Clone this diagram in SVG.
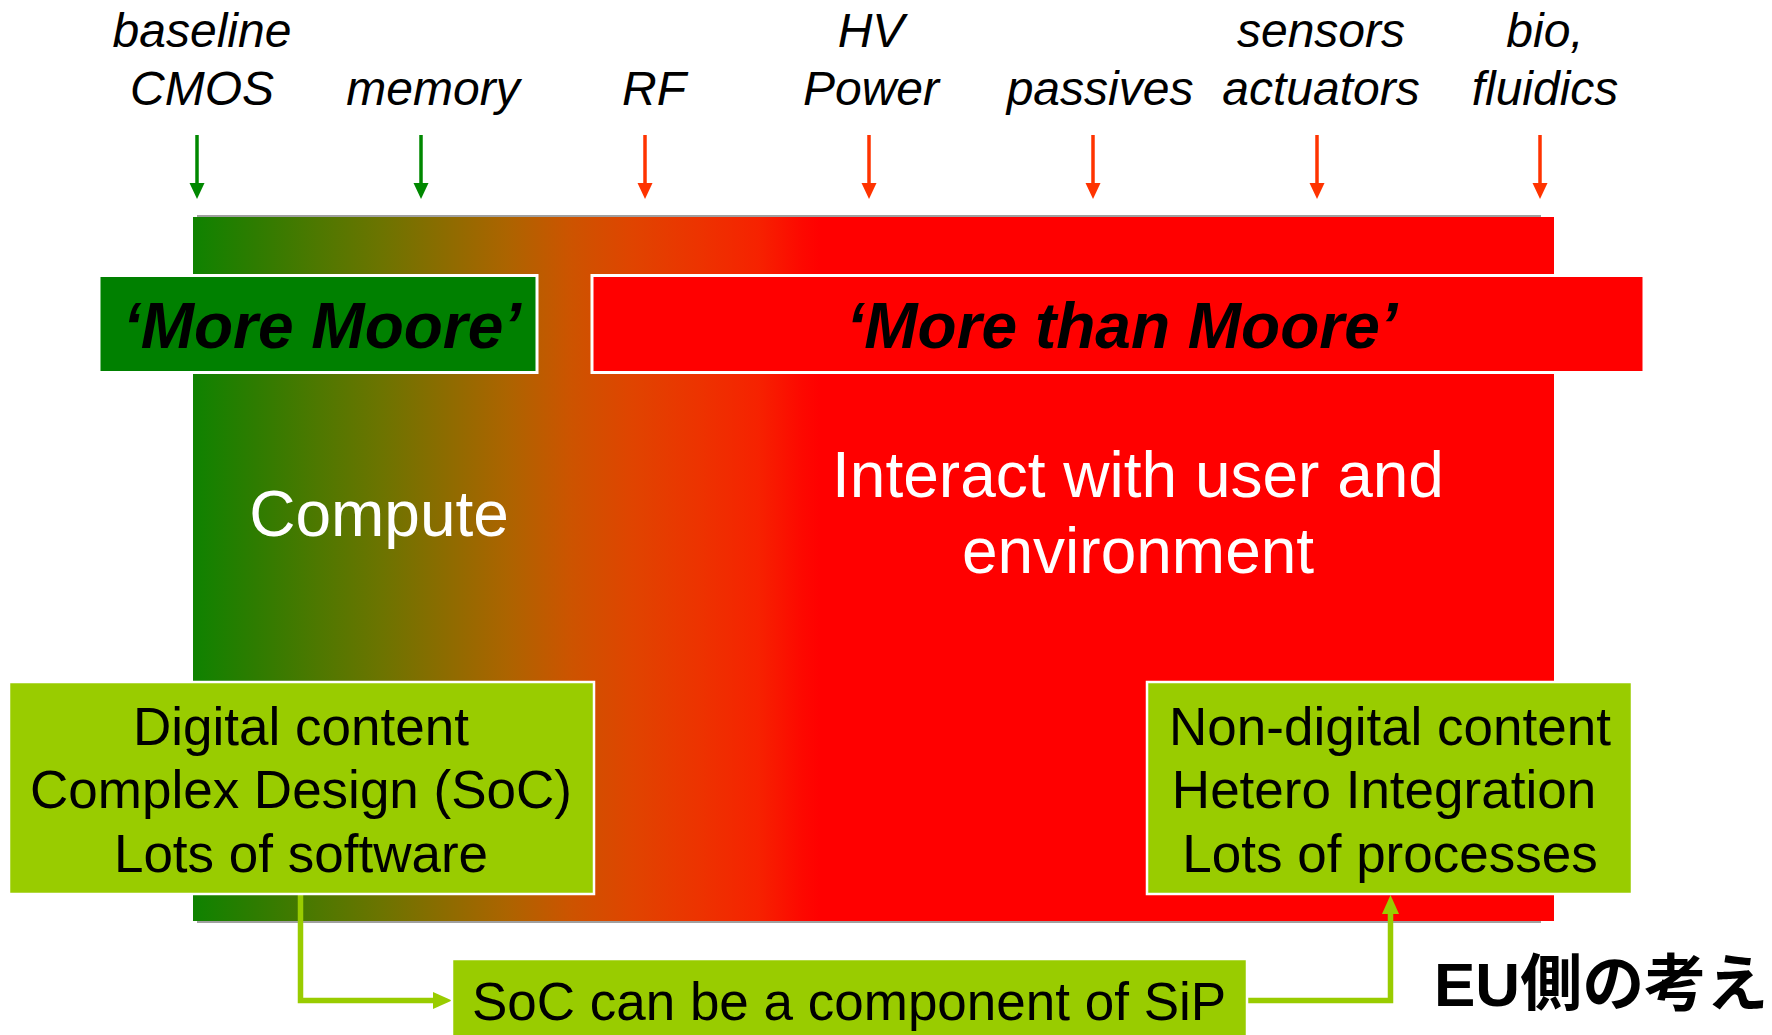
<svg xmlns="http://www.w3.org/2000/svg" width="1772" height="1035" viewBox="0 0 1772 1035">
  <defs>
    <linearGradient id="spectrum" gradientUnits="userSpaceOnUse" x1="193" y1="0" x2="821" y2="0">
      <stop offset="0" stop-color="#0f8200"/>
      <stop offset="0.1" stop-color="#2e7c00"/>
      <stop offset="0.2" stop-color="#4e7800"/>
      <stop offset="0.3" stop-color="#6c7400"/>
      <stop offset="0.4" stop-color="#8c6c00"/>
      <stop offset="0.5" stop-color="#ac6400"/>
      <stop offset="0.6" stop-color="#cc5400"/>
      <stop offset="0.7" stop-color="#e04400"/>
      <stop offset="0.8" stop-color="#ec3400"/>
      <stop offset="0.9" stop-color="#f62200"/>
      <stop offset="0.97" stop-color="#fd0800"/>
      <stop offset="1" stop-color="#ff0000"/>
    </linearGradient>
    <marker id="headGreen" markerUnits="userSpaceOnUse" markerWidth="16" markerHeight="16" refX="0" refY="8" orient="auto">
      <path d="M0,0.5 L16,8 L0,15.5 Z" fill="#008800"/>
    </marker>
    <marker id="headRed" markerUnits="userSpaceOnUse" markerWidth="16" markerHeight="16" refX="0" refY="8" orient="auto">
      <path d="M0,0.5 L16,8 L0,15.5 Z" fill="#ff3300"/>
    </marker>
    <marker id="headLime" markerUnits="userSpaceOnUse" markerWidth="19" markerHeight="18" refX="0" refY="9" orient="auto">
      <path d="M0,0.5 L19,9 L0,17.5 Z" fill="#99cc00"/>
    </marker>
  </defs>
  <style>
    .lbl { font-family: "Liberation Sans", Arial, sans-serif; font-style: italic; font-size: 48px; fill: #000; text-anchor: middle; }
    .head { font-family: "Liberation Sans", Arial, sans-serif; font-style: italic; font-weight: bold; font-size: 64px; fill: #000; text-anchor: middle; }
    .big { font-family: "Liberation Sans", Arial, sans-serif; font-size: 64px; fill: #fff; text-anchor: middle; }
    .box { font-family: "Liberation Sans", Arial, sans-serif; font-size: 53px; fill: #000; text-anchor: middle; }
    .lime { fill: #99cc00; stroke: #fff; stroke-width: 2.5; }
    .tick { stroke-width: 3.5; fill: none; }
    .link { stroke: #99cc00; stroke-width: 5.5; fill: none; }
  </style>

  <rect width="1772" height="1035" fill="#fff"/>

  <!-- technology labels along the top -->
  <g id="labels">
    <text class="lbl" x="202" y="47">baseline</text>
    <text class="lbl" x="202" y="105">CMOS</text>
    <text class="lbl" x="433" y="105">memory</text>
    <text class="lbl" x="654" y="105">RF</text>
    <text class="lbl" x="871" y="47">HV</text>
    <text class="lbl" x="871" y="105">Power</text>
    <text class="lbl" x="1100" y="105">passives</text>
    <text class="lbl" x="1321" y="47">sensors</text>
    <text class="lbl" x="1321" y="105">actuators</text>
    <text class="lbl" x="1545" y="47">bio,</text>
    <text class="lbl" x="1545" y="105">fluidics</text>
  </g>

  <!-- downward ticks pointing at the spectrum -->
  <g id="ticks">
    <line class="tick" x1="197" y1="135" x2="197" y2="183" stroke="#008800" marker-end="url(#headGreen)"/>
    <line class="tick" x1="421" y1="135" x2="421" y2="183" stroke="#008800" marker-end="url(#headGreen)"/>
    <line class="tick" x1="645" y1="135" x2="645" y2="183" stroke="#ff3300" marker-end="url(#headRed)"/>
    <line class="tick" x1="869" y1="135" x2="869" y2="183" stroke="#ff3300" marker-end="url(#headRed)"/>
    <line class="tick" x1="1093" y1="135" x2="1093" y2="183" stroke="#ff3300" marker-end="url(#headRed)"/>
    <line class="tick" x1="1317" y1="135" x2="1317" y2="183" stroke="#ff3300" marker-end="url(#headRed)"/>
    <line class="tick" x1="1540" y1="135" x2="1540" y2="183" stroke="#ff3300" marker-end="url(#headRed)"/>
  </g>

  <!-- green-to-red spectrum band -->
  <g id="spectrum-band">
    <rect x="197" y="215" width="1344" height="708" fill="#a0a0a0"/>
    <rect x="193" y="217" width="1361" height="704" fill="url(#spectrum)"/>
    <text class="big" x="379" y="536">Compute</text>
    <text class="big" x="1138" y="497">Interact with user and</text>
    <text class="big" x="1138" y="573">environment</text>
  </g>

  <g id="more-moore">
    <rect x="99" y="275.5" width="438" height="97" fill="#008000" stroke="#fff" stroke-width="3"/>
    <text class="head" x="322" y="348">‘More Moore’</text>
  </g>

  <g id="more-than-moore">
    <rect x="592" y="275.5" width="1052" height="97" fill="#ff0000" stroke="#fff" stroke-width="3"/>
    <text class="head" x="1122" y="348">‘More than Moore’</text>
  </g>

  <!-- connectors between the content boxes -->
  <g id="connectors">
    <path class="link" d="M300.5,894 V1000.5 H433" marker-end="url(#headLime)"/>
    <path class="link" d="M1248,1000.5 H1390.5 V914" marker-end="url(#headLime)"/>
  </g>

  <g id="digital">
    <rect class="lime" x="9" y="682" width="585" height="212"/>
    <text class="box" x="301" y="745">Digital content</text>
    <text class="box" x="301" y="808">Complex Design (SoC)</text>
    <text class="box" x="301" y="872">Lots of software</text>
  </g>

  <g id="non-digital">
    <rect class="lime" x="1147" y="682" width="485" height="212"/>
    <text class="box" x="1390" y="745">Non-digital content</text>
    <text class="box" x="1384" y="808">Hetero Integration</text>
    <text class="box" x="1390" y="872">Lots of processes</text>
  </g>

  <g id="sip">
    <rect class="lime" x="452" y="959" width="795" height="90"/>
    <text class="box" x="849" y="1020">SoC can be a component of SiP</text>
  </g>

  <g id="caption">
    <text x="1434" y="1006" font-family="'Liberation Sans', 'Noto Sans CJK JP', sans-serif" font-weight="bold" font-size="62" fill="#000">EU側の考え</text>
  </g>
</svg>
